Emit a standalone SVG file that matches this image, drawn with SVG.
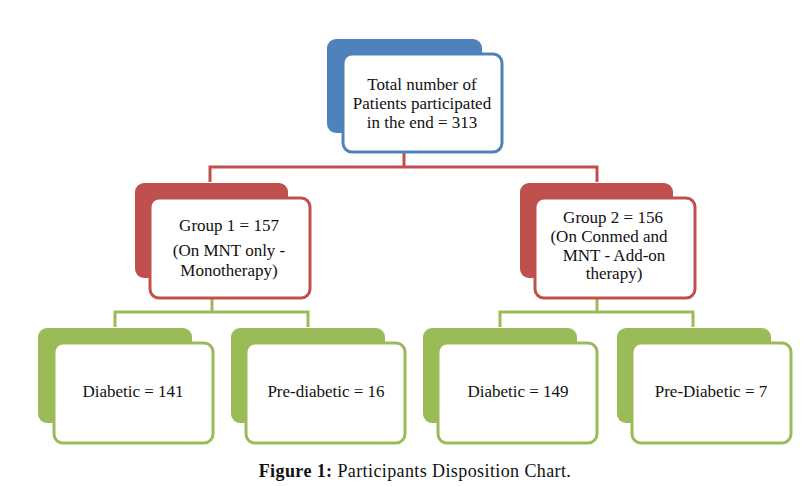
<svg xmlns="http://www.w3.org/2000/svg" width="811" height="486" viewBox="0 0 811 486">
<style>
text{font-family:"Liberation Serif","Times New Roman",serif;font-size:17px;fill:#111;text-anchor:middle}
.cap{font-size:18px;letter-spacing:0.4px}
.front{fill:#fff;stroke-width:3}
.blue .back{fill:#4F81BD}.blue .front{stroke:#4F81BD}
.red .back{fill:#C0504D}.red .front{stroke:#C0504D}
.green .back{fill:#9BBB59}.green .front{stroke:#9BBB59}
.cr{fill:none;stroke:#C0504D;stroke-width:3}
.cg{fill:none;stroke:#9BBB59;stroke-width:3}
</style>
<rect width="811" height="486" fill="#fff"/>
<g id="connectors">
<path class="cr" d="M404,153 V167 H210 V182 M404,167 H597 V182"/>
<path class="cg" d="M212,298 V312 H115 V327 M212,312 H308 V327"/>
<path class="cg" d="M597,298 V312 H500 V327 M597,312 H693 V327"/>
</g>
<g id="n-total" class="blue">
<rect class="back" x="327" y="39" width="155" height="94" rx="9"/>
<rect class="front" x="343" y="54" width="159" height="98" rx="9"/>
<text x="422" y="90">Total number of</text>
<text x="422" y="109">Patients participated</text>
<text x="422" y="128">in the end = 313</text>
</g>
<g id="n-group1" class="red">
<rect class="back" x="135" y="183" width="153" height="95" rx="9"/>
<rect class="front" x="150" y="198" width="160" height="100" rx="9"/>
<text x="229" y="231">Group 1 = 157</text>
<text x="229" y="256">(On MNT only -</text>
<text x="229" y="276">Monotherapy)</text>
</g>
<g id="n-group2" class="red">
<rect class="back" x="520" y="183" width="153" height="95" rx="9"/>
<rect class="front" x="535" y="198" width="160" height="100" rx="9"/>
<text x="613" y="223">Group 2 = 156</text>
<text x="609" y="242">(On Conmed and</text>
<text x="614" y="261">MNT - Add-on</text>
<text x="614" y="279">therapy)</text>
</g>
<g id="n-leaf1" class="green">
<rect class="back" x="38" y="328" width="154" height="95" rx="9"/>
<rect class="front" x="54" y="343" width="159" height="100" rx="9"/>
<text x="133" y="397">Diabetic = 141</text>
</g>
<g id="n-leaf2" class="green">
<rect class="back" x="231" y="328" width="154" height="95" rx="9"/>
<rect class="front" x="246" y="343" width="159" height="100" rx="9"/>
<text x="326" y="397">Pre-diabetic = 16</text>
</g>
<g id="n-leaf3" class="green">
<rect class="back" x="423" y="328" width="154" height="95" rx="9"/>
<rect class="front" x="438" y="343" width="159" height="100" rx="9"/>
<text x="518" y="397">Diabetic = 149</text>
</g>
<g id="n-leaf4" class="green">
<rect class="back" x="617" y="328" width="154" height="95" rx="9"/>
<rect class="front" x="632" y="343" width="159" height="100" rx="9"/>
<text x="711" y="397">Pre-Diabetic = 7</text>
</g>
<text class="cap" x="415" y="477"><tspan font-weight="bold">Figure 1:</tspan> Participants Disposition Chart.</text>
</svg>
